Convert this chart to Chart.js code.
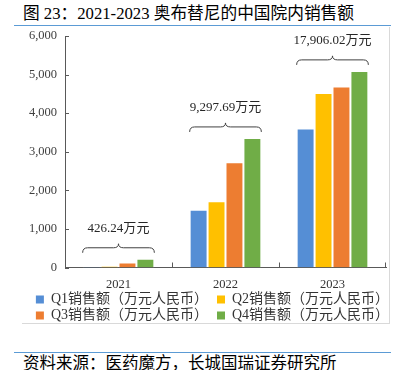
<!DOCTYPE html>
<html>
<head>
<meta charset="utf-8">
<script src="https://cdn.jsdelivr.net/npm/chart.js@4.4.0/dist/chart.umd.min.js"></script>
<style>
  body { margin: 0; width: 400px; height: 370px; overflow: hidden; position: relative; background: #fff;
         font-family: 'Liberation Serif', 'Noto Sans CJK SC', serif; color: #000; }
  #title  { position: absolute; left: 23px; top: 4px; font-size: 16.7px; line-height: 20px; white-space: nowrap; }
  .rule   { position: absolute; left: 14px; width: 377px; height: 1px; background: #5b9bd5; }
  #frame  { position: absolute; left: 22px; top: 27px; width: 367px; height: 296px;
            border-right: 1px solid #d9d9d9; border-bottom: 1px solid #d9d9d9; }
  #wrap   { position: absolute; left: 0; top: 27px; width: 390px; height: 317px; }
  #source { position: absolute; left: 23px; top: 354px; font-size: 16.5px; line-height: 20px; white-space: nowrap; }
</style>
</head>
<body>
<div id="title">图 23：2021-2023 奥布替尼的中国院内销售额</div>
<div class="rule" style="top:25px"></div>
<div id="frame"></div>
<div id="wrap"><canvas id="chart"></canvas></div>
<div class="rule" style="top:352px"></div>
<div id="source">资料来源：医药魔方，长城国瑞证券研究所</div>

<script>
// ── Data ─────────────────────────────────────────────────────────────────────
const years  = ['2021', '2022', '2023'];
const names  = ['Q1销售额（万元人民币）', 'Q2销售额（万元人民币）',
                'Q3销售额（万元人民币）', 'Q4销售额（万元人民币）'];
const q1     = [25, 1499, 3600];
const q2     = [45, 1714, 4520];
const q3     = [130, 2727, 4690];
const q4     = [226, 3358, 5096];
const totals = ['426.24万元', '9,297.69万元', '17,906.02万元'];
const colors = ['#558ED5', '#FFC000', '#ED7D31', '#70AD47'];

const FONT = "'Liberation Serif', 'Noto Sans CJK SC', serif";
const AXIS = '#595959';

// ── Braces + totals above each year, and Excel-style inside tick marks ───────
const bracePlugin = {
  id: 'braces',
  afterLayout(chart) {
    // pull the legend up under the year labels and a little right, like the original
    const lg = chart.legend;
    const dy = lg.top - (chart.chartArea.bottom + 23);
    lg.top -= dy; lg.bottom -= dy;
    lg.left += 6; lg.right += 6;
  },
  afterDatasetsDraw(chart) {
    const ctx = chart.ctx;
    const n = chart.data.datasets.length;
    ctx.save();
    ctx.strokeStyle = '#404040';
    ctx.lineWidth = 1;
    years.forEach((y, i) => {
      const first = chart.getDatasetMeta(0).data[i];
      const last  = chart.getDatasetMeta(n - 1).data[i];
      const left  = first.x - first.width / 2;
      const right = last.x + last.width / 2;
      let top = Infinity;
      for (let d = 0; d < n; d++) top = Math.min(top, chart.getDatasetMeta(d).data[i].y);
      const tip = top - 6, line = tip - 5, peak = line - 4, mid = (left + right) / 2;
      ctx.beginPath();
      ctx.moveTo(left, tip);
      ctx.quadraticCurveTo(left, line, left + 5, line);
      ctx.lineTo(mid - 5, line);
      ctx.quadraticCurveTo(mid, line, mid, peak);
      ctx.quadraticCurveTo(mid, line, mid + 5, line);
      ctx.lineTo(right - 5, line);
      ctx.quadraticCurveTo(right, line, right, tip);
      ctx.stroke();
      ctx.fillStyle = '#262626';
      ctx.font = '13px ' + FONT;
      ctx.textAlign = 'center';
      ctx.textBaseline = 'middle';
      ctx.fillText(totals[i], mid, line - 19);
    });

    // tick marks
    const xs = chart.scales.x, ys = chart.scales.y;
    ctx.strokeStyle = AXIS;
    ctx.beginPath();
    ys.ticks.forEach((t, k) => {
      const py = Math.round(ys.getPixelForTick(k)) + 0.5;
      ctx.moveTo(xs.left, py); ctx.lineTo(xs.left + 4, py);
    });
    for (let k = 1; k <= years.length; k++) {
      const px = Math.round((xs.getPixelForValue(k - 1) + xs.getPixelForValue(k)) / 2) + 0.5;
      const bx = k === years.length ? Math.round(xs.right) - 0.5 : px;
      ctx.moveTo(bx, ys.bottom); ctx.lineTo(bx, ys.bottom - 5);
    }
    ctx.stroke();
    ctx.restore();
  }
};

// ── Chart ────────────────────────────────────────────────────────────────────
const series = [q1, q2, q3, q4];

new Chart(document.getElementById('chart'), {
  type: 'bar',
  data: {
    labels: years,
    datasets: series.map((vals, i) => ({
      label: names[i],
      data: vals,
      backgroundColor: colors[i],
      borderColor: 'rgba(255,255,255,0.7)',
      borderWidth: 1,
      barPercentage: 1,
      categoryPercentage: 0.67,
    })),
  },
  options: {
    responsive: true, maintainAspectRatio: false, animation: false,
    layout: { padding: { left: 27, right: 4, top: 9, bottom: 0 } },
    plugins: {
      tooltip: { enabled: false },
      legend: {
        position: 'bottom',
        labels: {
          color: '#333',
          font: { family: FONT, size: 14 },
          boxWidth: 8, boxHeight: 8, padding: 2,
          // left-column items get a trailing en space so the second column lines up
          generateLabels(chart) {
            const items = Chart.defaults.plugins.legend.labels.generateLabels(chart);
            items.forEach((it, i) => { it.lineWidth = 0; if (i % 2 === 0) it.text += '\u2002'; });
            return items;
          },
        },
      },
    },
    scales: {
      x: {
        grid: { display: false, drawTicks: false },
        border: { color: AXIS },
        ticks: { color: '#333', font: { family: FONT, size: 12.5, lineHeight: 1 }, padding: 11 },
      },
      y: {
        min: 0, max: 6000,
        grid: { display: false, drawTicks: false },
        border: { color: AXIS },
        ticks: { stepSize: 1000, color: '#404040', font: { family: FONT, size: 12.5 }, padding: 8 },
        afterFit(s) { s.width = 38; s.paddingTop = 0; },
      },
    },
  },
  plugins: [bracePlugin],
});
</script>
</body>
</html>
